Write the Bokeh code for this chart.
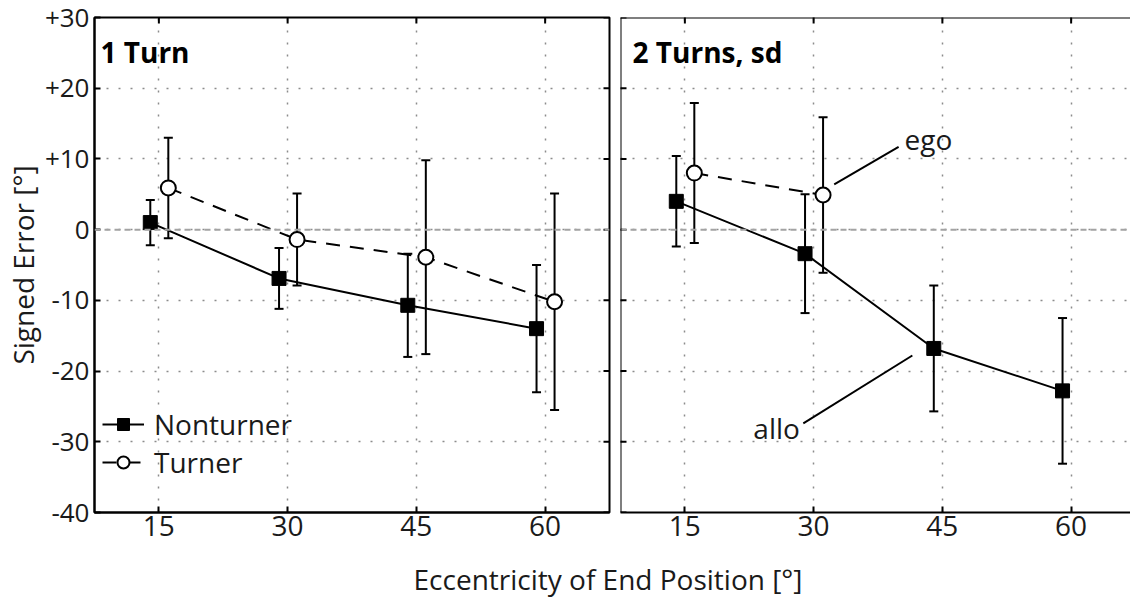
import math
from bokeh.plotting import figure
from bokeh.models import (FixedTicker, LinearAxis, Range1d, ColumnDataSource, Span,
                          Label, Legend, LegendItem)
from bokeh.layouts import row, column
from bokeh.embed import file_html
from bokeh.resources import INLINE

# ---------------- data ----------------
ecc = [15, 30, 45, 60]
one_nt_mean = [1.0, -6.9, -10.7, -14.0]
one_nt_sd = [3.2, 4.3, 7.3, 9.0]
one_t_mean = [5.9, -1.4, -3.9, -10.2]
one_t_sd = [7.1, 6.5, 13.7, 15.3]
two_nt_mean = [4.0, -3.4, -16.8, -22.8]
two_nt_sd = [6.4, 8.4, 8.9, 10.3]
two_t_ecc = [15, 30]
two_t_mean = [8.0, 4.9]
two_t_sd = [9.9, 11.0]
y_ticks = [-40, -30, -20, -10, 0, 10, 20, 30]
y_tick_labels = ["-40", "-30", "-20", "-10", "0", "+10", "+20", "+30"]
x_tick_labels = ["15", "30", "45", "60"]
panel_titles = ["1 Turn", "2 Turns, sd"]
series_names = ["Nonturner", "Turner"]
annot_texts = ["ego", "allo"]
x_title = "Eccentricity of End Position [°]"
y_title = "Signed Error [°]"

# ---------------- style ----------------
FONT = "Open Sans"
FS = "28px"
FS_Y = "26px"
TXT = "#1a1a1a"
H = 554
LEFT_W, RIGHT_W = 615, 515
X0, X1 = 7.5, 67.5
Y0, Y1 = -40, 30
NT_OFF, T_OFF = -1.0, 1.1
GRID_C = "#8c8c8c"
LIFT = 1.55  # label baseline correction (data units)


def style_axis(ax, labels, standoff, size):
    ax.axis_line_color = "black"
    ax.axis_line_width = 2
    ax.major_tick_in = 6
    ax.major_tick_out = 0
    ax.major_tick_line_width = 2
    ax.major_tick_line_color = "black"
    ax.minor_tick_line_color = None
    ax.major_label_overrides = labels
    ax.major_label_text_font = FONT
    ax.major_label_text_font_size = size
    ax.major_label_text_color = TXT
    ax.major_label_standoff = standoff


def make_panel(width, x_end, min_left, min_right, first):
    p = figure(width=width, height=H, x_range=Range1d(X0, x_end), y_range=Range1d(Y0, Y1),
               output_backend="svg", toolbar_location=None, title=None,
               x_axis_location=None, y_axis_location=None,
               min_border_left=min_left, min_border_right=min_right,
               min_border_top=17, min_border_bottom=42)
    p.background_fill_color = "white"
    p.border_fill_color = "white"
    p.xgrid.ticker = FixedTicker(ticks=ecc)
    p.ygrid.ticker = FixedTicker(ticks=y_ticks)
    p.grid.grid_line_color = GRID_C
    p.grid.grid_line_dash = "2 10"
    p.grid.grid_line_width = 1.5
    p.add_layout(Span(location=0, dimension="width", line_color="#a3a3a3",
                      line_dash="6 4", line_width=2))

    xlab = {t: l for t, l in zip(ecc, x_tick_labels)}
    bottom = LinearAxis(ticker=FixedTicker(ticks=ecc))
    style_axis(bottom, xlab, 3, FS)
    p.add_layout(bottom, "below")

    # inward tick marks on the top edge
    p.scatter(x=ecc, y=[Y1] * len(ecc), marker="dash", angle=math.pi / 2, size=12,
              line_color="black", line_width=2)
    if first:
        p.outline_line_color = "black"
        p.outline_line_width = 2
        ylab = {t: l for t, l in zip(y_ticks, y_tick_labels)}
        left = LinearAxis(ticker=FixedTicker(ticks=y_ticks))
        style_axis(left, ylab, 5, FS_Y)
        left.axis_label = y_title
        left.axis_label_text_font = FONT
        left.axis_label_text_font_size = FS
        left.axis_label_text_font_style = "normal"
        left.axis_label_text_color = TXT
        left.axis_label_standoff = 0
        p.add_layout(left, "left")
        # inward ticks on the right edge
        p.scatter(x=[x_end] * len(y_ticks), y=y_ticks, marker="dash", size=12,
                  line_color="black", line_width=2)
    else:
        p.outline_line_color = None
        p.add_layout(Span(location=X0, dimension="height", line_color="black", line_width=2))
        p.add_layout(Span(location=Y1, dimension="width", line_color="black", line_width=2))
        p.scatter(x=[X0] * len(y_ticks), y=y_ticks, marker="dash", size=12,
                  line_color="black", line_width=2)
    return p


def draw_series(p, xs, mean, sd, offset, filled):
    src = ColumnDataSource(dict(
        x=[x + offset for x in xs], y=mean,
        lo=[m - s for m, s in zip(mean, sd)], hi=[m + s for m, s in zip(mean, sd)]))
    ln = p.line("x", "y", source=src, line_color="black", line_width=2,
                line_dash="solid" if filled else "14 10")
    p.segment(x0="x", y0="lo", x1="x", y1="hi", source=src, line_color="black", line_width=2)
    p.scatter("x", "hi", source=src, marker="dash", size=9, line_color="black", line_width=2)
    p.scatter("x", "lo", source=src, marker="dash", size=9, line_color="black", line_width=2)
    if filled:
        sc = p.scatter("x", "y", source=src, marker="square", size=14, fill_color="black",
                       line_color="black", line_width=1)
    else:
        sc = p.scatter("x", "y", source=src, marker="circle", size=15, fill_color="white",
                       line_color="black", line_width=2)
    return ln, sc


# ---------------- left panel ----------------
p1 = make_panel(LEFT_W, X1, 94, 6, True)
l_nt, s_nt = draw_series(p1, ecc, one_nt_mean, one_nt_sd, NT_OFF, True)
l_t, s_t = draw_series(p1, ecc, one_t_mean, one_t_sd, T_OFF, False)
p1.add_layout(Label(x=8.2, y=23.6 + LIFT, text=panel_titles[0], text_font=FONT,
                    text_font_size="28px", text_font_style="bold", text_color="black",
                    text_baseline="alphabetic"))
legend = Legend(items=[LegendItem(label=series_names[0], renderers=[l_nt, s_nt]),
                       LegendItem(label=series_names[1], renderers=[l_t, s_t])],
                location=(8, 31), glyph_width=42, glyph_height=30, label_standoff=10,
                label_text_font=FONT, label_text_font_size=FS, label_text_color=TXT,
                background_fill_alpha=0, border_line_color=None, padding=0, spacing=0,
                margin=0)
p1.add_layout(legend)

# ---------------- right panel ----------------
right_end = X0 + (X1 - X0) * (RIGHT_W - 5) / 515
p2 = make_panel(RIGHT_W, right_end, 5, 0, False)
draw_series(p2, ecc, two_nt_mean, two_nt_sd, NT_OFF, True)
draw_series(p2, two_t_ecc, two_t_mean, two_t_sd, T_OFF, False)
p2.add_layout(Label(x=8.9, y=23.6 + LIFT, text=panel_titles[1], text_font=FONT,
                    text_font_size="28px", text_font_style="bold", text_color="black",
                    text_baseline="alphabetic"))
# annotation leaders
p2.segment(x0=[32.4], y0=[6.4], x1=[39.9], y1=[11.7], line_color="black", line_width=2)
p2.segment(x0=[41.5], y0=[-17.8], x1=[28.8], y1=[-27.4], line_color="black", line_width=2)
p2.add_layout(Label(x=40.6, y=11.2 + LIFT, text=annot_texts[0], text_font=FONT,
                    text_font_size=FS, text_color=TXT, text_baseline="alphabetic"))
p2.add_layout(Label(x=28.4, y=-29.6 + LIFT, text=annot_texts[1], text_font=FONT,
                    text_font_size=FS, text_color=TXT, text_baseline="alphabetic",
                    text_align="right"))

# ---------------- x title strip ----------------
TW = LEFT_W + RIGHT_W
TH = 43
p3 = figure(width=TW, height=TH, x_range=Range1d(0, TW), y_range=Range1d(0, TH),
            output_backend="svg", toolbar_location=None, title=None,
            x_axis_location=None, y_axis_location=None,
            min_border_left=0, min_border_right=0, min_border_top=0, min_border_bottom=0)
p3.outline_line_color = None
p3.grid.visible = False
p3.add_layout(Label(x=607.5, y=19, text=x_title, text_font=FONT, text_font_size=FS,
                    text_color=TXT, text_align="center", text_baseline="alphabetic"))

layout = column(row(p1, p2), p3)
open("out.html", "w").write(file_html(layout, INLINE))
